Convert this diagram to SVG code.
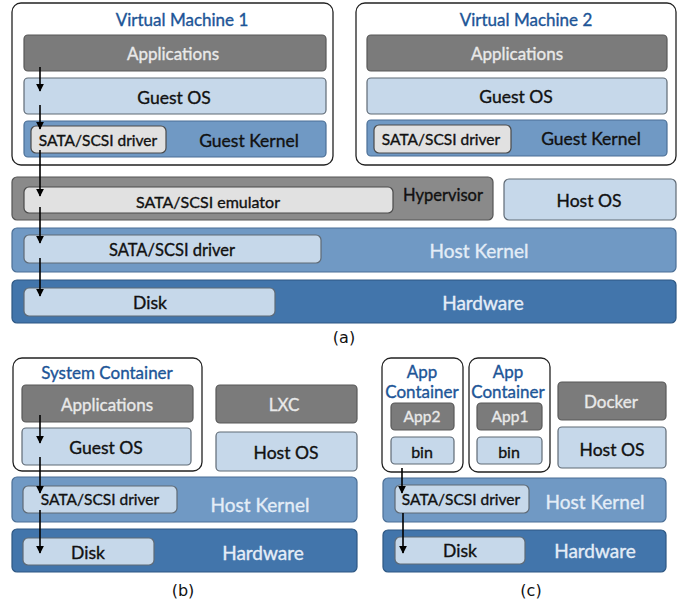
<svg xmlns="http://www.w3.org/2000/svg" width="688" height="605" viewBox="0 0 688 605">
<defs>
<marker id="ah" viewBox="0 0 10 10" refX="9" refY="5" markerWidth="5" markerHeight="5" orient="auto">
<path d="M0,0 L10,5 L0,10 z" fill="#000"/>
</marker>
<style>
text{font-family:Lato,"Open Sans","Liberation Sans",sans-serif;text-anchor:middle;dominant-baseline:central;stroke-width:0.35px}
.frame{fill:#fff;stroke:#222;stroke-width:1.3}
.dg{fill:#7b7b7b;stroke:#585858;stroke-width:1.2}
.hv{fill:#8a8a8a;stroke:#555;stroke-width:1.2}
.lg{fill:#e1e1e1;stroke:#4a4a4a;stroke-width:1.2}
.lb{fill:#c6d8ea;stroke:#5f6a75;stroke-width:1.2}
.mb{fill:#7099c4;stroke:#4b6f96;stroke-width:1.2}
.db{fill:#4275ab;stroke:#2d5783;stroke-width:1.2}
.ttl{fill:#1d5597;stroke:#1d5597;font-size:17px}
.wt{fill:#e9e9e9;stroke:#e9e9e9;font-size:17px}
.bk{fill:#111;stroke:#111;font-size:17.5px}
.sm{fill:#111;stroke:#111;font-size:15.5px}
.hk{fill:#e4edf7;stroke:#e4edf7;font-size:19px}
.cap{fill:#111;font-size:16px;font-family:"DejaVu Sans",sans-serif;stroke:none}
.arr{stroke:#000;stroke-width:1.6;fill:none;marker-end:url(#ah)}
</style>
</defs>

<!-- Panel (a) -->
<g id="vm1">
<rect class="frame" x="12" y="3" width="321" height="162" rx="9"/>
<text class="ttl" x="182" y="19">Virtual Machine 1</text>
<rect class="dg" x="24" y="35" width="302" height="36" rx="4"/>
<text class="wt" x="173" y="53">Applications</text>
<rect class="lb" x="24" y="78" width="302" height="36" rx="4"/>
<text class="bk" x="174" y="97">Guest OS</text>
<rect class="mb" x="24" y="121" width="302" height="36" rx="4"/>
<rect class="lg" x="31" y="126" width="135" height="27" rx="5"/>
<text class="sm" x="98" y="140">SATA/SCSI driver</text>
<text class="bk" x="249" y="140">Guest Kernel</text>
</g>
<g id="vm2">
<rect class="frame" x="356" y="3" width="320" height="162" rx="9"/>
<text class="ttl" x="526" y="19">Virtual Machine 2</text>
<rect class="dg" x="367" y="35" width="300" height="36" rx="4"/>
<text class="wt" x="517" y="53">Applications</text>
<rect class="lb" x="367" y="78" width="300" height="36" rx="4"/>
<text class="bk" x="516" y="96">Guest OS</text>
<rect class="mb" x="367" y="120" width="300" height="36" rx="4"/>
<rect class="lg" x="374" y="125" width="137" height="28" rx="5"/>
<text class="sm" x="441" y="139">SATA/SCSI driver</text>
<text class="bk" x="591" y="138">Guest Kernel</text>
</g>
<g id="hypervisor">
<rect class="hv" x="12" y="177" width="481" height="43" rx="5"/>
<rect class="lg" x="24" y="187" width="369" height="26" rx="5"/>
<text class="sm" x="208" y="201" style="font-size:16px">SATA/SCSI emulator</text>
<text class="bk" x="443" y="195" style="font-size:16.5px">Hypervisor</text>
</g>
<g id="hostos-a">
<rect class="lb" x="504" y="179" width="172" height="41" rx="5"/>
<text class="bk" x="589" y="200">Host OS</text>
</g>
<g id="hostkernel-a">
<rect class="mb" x="12" y="228" width="664" height="44" rx="5"/>
<rect class="lb" x="24" y="235" width="297" height="28" rx="5"/>
<text class="bk" x="172" y="250" style="font-size:16.5px">SATA/SCSI driver</text>
<text class="hk" x="479" y="250">Host Kernel</text>
</g>
<g id="hardware-a">
<rect class="db" x="12" y="280" width="664" height="43" rx="5"/>
<rect class="lb" x="24" y="288" width="251" height="28" rx="5"/>
<text class="bk" x="150" y="302">Disk</text>
<text class="hk" x="483" y="302">Hardware</text>
</g>
<text class="cap" x="344" y="337">(a)</text>

<!-- Panel (b) -->
<g id="syscontainer">
<rect class="frame" x="13" y="358" width="189" height="113" rx="9"/>
<text class="ttl" x="107" y="372">System Container</text>
<rect class="dg" x="22" y="385" width="171" height="37" rx="4"/>
<text class="wt" x="107" y="404">Applications</text>
<rect class="lb" x="22" y="428" width="169" height="37" rx="4"/>
<text class="bk" x="106" y="447">Guest OS</text>
</g>
<g id="lxc">
<rect class="dg" x="216" y="385" width="141" height="38" rx="4"/>
<text class="wt" x="284" y="404">LXC</text>
</g>
<g id="hostos-b">
<rect class="lb" x="216" y="432" width="141" height="39" rx="4"/>
<text class="bk" x="286" y="452">Host OS</text>
</g>
<g id="hostkernel-b">
<rect class="mb" x="12" y="477" width="345" height="45" rx="5"/>
<rect class="lb" x="23" y="486" width="154" height="27" rx="5"/>
<text class="sm" x="100" y="499">SATA/SCSI driver</text>
<text class="hk" x="260" y="504">Host Kernel</text>
</g>
<g id="hardware-b">
<rect class="db" x="12" y="529" width="345" height="43" rx="5"/>
<rect class="lb" x="23" y="538" width="131" height="27" rx="5"/>
<text class="bk" x="88" y="552">Disk</text>
<text class="hk" x="263" y="552">Hardware</text>
</g>
<text class="cap" x="183" y="590">(b)</text>

<!-- Panel (c) -->
<g id="appcontainer2">
<rect class="frame" x="382" y="358" width="81" height="114" rx="9"/>
<text class="ttl" x="422" y="371">App</text>
<text class="ttl" x="422" y="391">Container</text>
<rect class="dg" x="391" y="403" width="63" height="27" rx="4"/>
<text class="wt" x="422" y="416" style="font-size:15.5px">App2</text>
<rect class="lb" x="391" y="437" width="63" height="27" rx="4"/>
<text class="bk" x="422" y="451" style="font-size:16px">bin</text>
</g>
<g id="appcontainer1">
<rect class="frame" x="469" y="358" width="81" height="114" rx="9"/>
<text class="ttl" x="508" y="371">App</text>
<text class="ttl" x="508" y="391">Container</text>
<rect class="dg" x="477" y="403" width="65" height="27" rx="4"/>
<text class="wt" x="510" y="416" style="font-size:15.5px">App1</text>
<rect class="lb" x="477" y="437" width="65" height="27" rx="4"/>
<text class="bk" x="509" y="451" style="font-size:16px">bin</text>
</g>
<g id="docker">
<rect class="dg" x="558" y="382" width="108" height="38" rx="4"/>
<text class="wt" x="611" y="401">Docker</text>
</g>
<g id="hostos-c">
<rect class="lb" x="558" y="427" width="108" height="41" rx="4"/>
<text class="bk" x="612" y="449">Host OS</text>
</g>
<g id="hostkernel-c">
<rect class="mb" x="383" y="478" width="283" height="44" rx="5"/>
<rect class="lb" x="395" y="485" width="134" height="28" rx="5"/>
<text class="sm" x="461" y="499">SATA/SCSI driver</text>
<text class="hk" x="595" y="501">Host Kernel</text>
</g>
<g id="hardware-c">
<rect class="db" x="383" y="530" width="283" height="42" rx="5"/>
<rect class="lb" x="395" y="537" width="130" height="27" rx="5"/>
<text class="bk" x="460" y="550">Disk</text>
<text class="hk" x="595" y="550">Hardware</text>
</g>
<text class="cap" x="531" y="590">(c)</text>

<!-- Connectors -->
<g id="connectors">
<path class="arr" d="M40,67 V91"/>
<path class="arr" d="M40,105 V129"/>
<path class="arr" d="M40,150 V196"/>
<path class="arr" d="M40,207 V243"/>
<path class="arr" d="M40,258 V296"/>
<path class="arr" d="M40,415 V443"/>
<path class="arr" d="M40,457 V493"/>
<path class="arr" d="M40,510 V553"/>
<path class="arr" d="M402,468 V493"/>
<path class="arr" d="M403,513 V553"/>
</g>
</svg>
